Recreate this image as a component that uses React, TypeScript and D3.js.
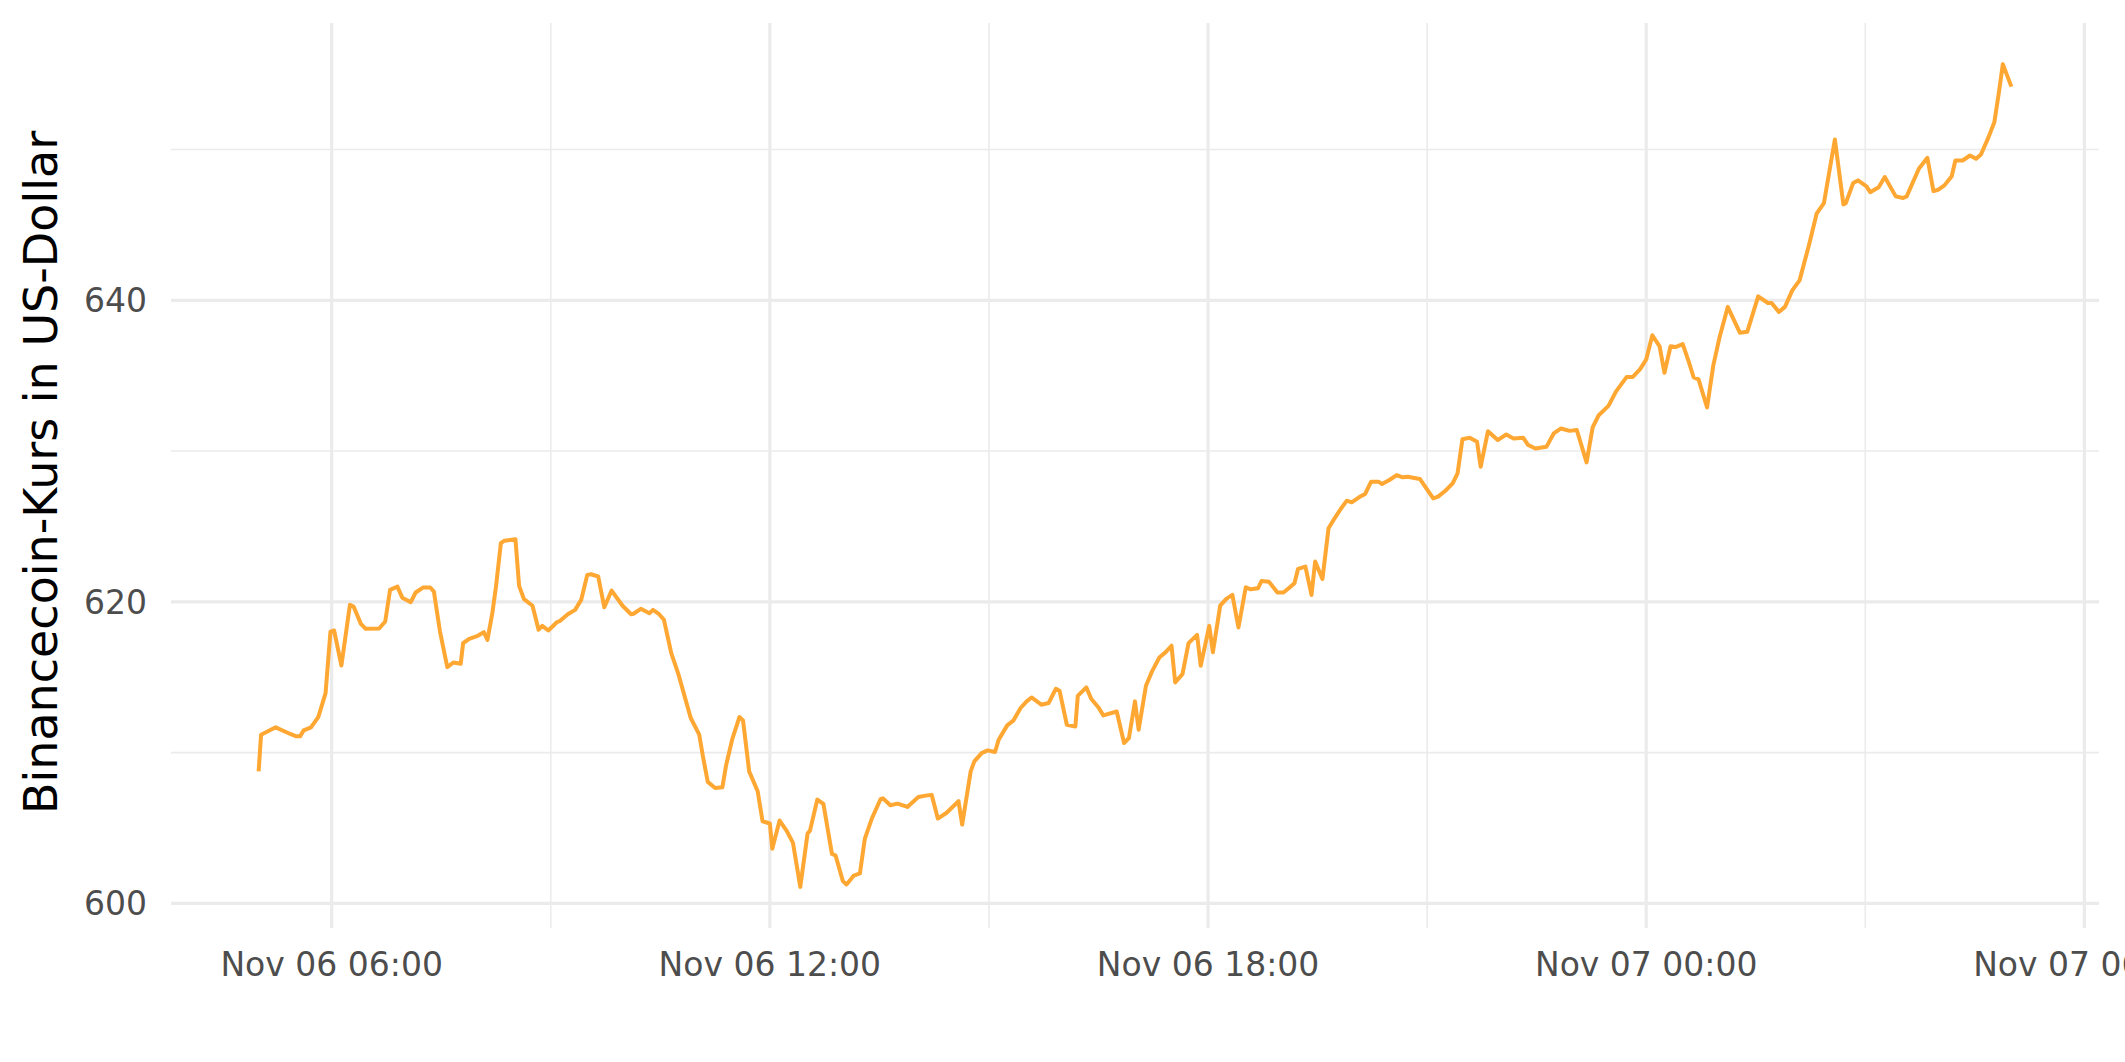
import React from 'react';
import * as d3 from 'd3';

const START = '2021-11-06T05:00:00';

const minutesFromStart = [
  0, 2, 14, 26, 31, 34, 37, 43, 49, 55, 59, 62, 68, 75, 78, 84, 88, 99, 104, 108, 114, 118, 125, 129, 135, 141, 144, 149, 155, 160, 166, 168, 173, 180, 185, 188, 192, 195, 199, 202, 211, 214, 218, 225, 230, 233,
  238, 245, 248, 254, 260, 265, 270, 273, 279, 284, 290, 299, 306, 308, 314, 321, 324, 329, 333, 336, 339, 345, 350, 355, 362, 365, 369, 375, 381, 384, 389, 395, 398, 403, 410, 414, 420, 422, 428, 434, 439, 445, 451, 453, 459, 464, 471, 474,
  480, 483, 489, 494, 498, 504, 511, 513, 519, 525, 533, 542, 548, 553, 558, 565, 575, 578, 585, 588, 594, 599, 605, 608, 615, 620, 626, 631, 635, 643, 649, 655, 658, 664, 671, 673, 680, 684, 690, 694, 705, 711, 715, 720,
  723, 729, 734, 740, 745, 750, 753, 759, 764, 771, 774, 781, 784, 790, 795, 800, 805, 811, 815, 821, 824, 830, 837, 842, 847, 851, 854, 860, 865, 868, 874, 879, 884, 889, 894, 898, 904, 909, 914, 920, 923, 929, 935, 940, 944, 954,
  965, 969, 975, 981, 985, 989, 995, 1001, 1004, 1010, 1018, 1025, 1031, 1039, 1043, 1049, 1058, 1064, 1070, 1077, 1083, 1091, 1096, 1101, 1109, 1115, 1119, 1124, 1129, 1135, 1140, 1145, 1151, 1155, 1160, 1164, 1170, 1175, 1179, 1183, 1190, 1195, 1200,
  1207, 1217, 1223, 1232, 1240, 1243, 1249, 1254, 1260, 1266, 1274, 1280, 1286, 1295, 1302, 1304, 1310, 1314, 1321, 1324, 1331, 1336, 1345, 1351, 1354, 1364, 1371, 1376, 1380, 1385, 1391, 1394, 1400, 1406, 1411, 1415, 1421, 1426, 1430, 1433, 1440,
];

const priceUSD = [
  608.76, 611.19, 611.68, 611.24, 611.08, 611.08, 611.48, 611.68, 612.36, 613.95, 618.03, 618.10, 615.78, 619.80, 619.69, 618.54, 618.21, 618.23, 618.70, 620.80, 621.01, 620.28, 619.98, 620.62, 620.95, 620.95, 620.68, 618.03, 615.67, 615.98, 615.89, 617.26, 617.55, 617.75, 617.99, 617.48, 619.25, 621.01, 623.89, 624.06, 624.15, 621.06, 620.18, 619.74, 618.15, 618.41,
  618.10, 618.65, 618.76, 619.18, 619.47, 620.13, 621.79, 621.83, 621.68, 619.64, 620.75, 619.74, 619.18, 619.21, 619.54, 619.25, 619.47, 619.18, 618.81, 617.70, 616.60, 615.17, 613.73, 612.30, 611.19, 609.76, 608.06, 607.66, 607.70, 609.14, 610.86, 612.36, 612.14, 608.76, 607.44, 605.45, 605.30, 603.62, 605.50, 604.79, 604.02, 601.10, 604.64, 604.83, 606.89, 606.60, 603.29, 603.18,
  601.48, 601.26, 601.85, 601.99, 604.28, 605.67, 606.93, 606.97, 606.51, 606.62, 606.40, 607.06, 607.15, 607.20, 605.63, 606.00, 606.78, 605.23, 608.76, 609.42, 609.97, 610.15, 610.04, 610.86, 611.81, 612.12, 612.96, 613.40, 613.66, 613.18, 613.29, 614.24, 614.11, 611.85, 611.74, 613.77, 614.33, 613.58, 613.00, 612.47, 612.73, 610.64, 610.97, 613.40,
  611.52, 614.44, 615.39, 616.31, 616.65, 617.09, 614.66, 615.21, 617.26, 617.81, 615.76, 618.41, 616.66, 619.75, 620.20, 620.46, 618.30, 620.97, 620.83, 620.90, 621.39, 621.34, 620.62, 620.62, 620.95, 621.24, 622.19, 622.34, 620.46, 622.67, 621.52, 624.88, 625.54, 626.16, 626.71, 626.60, 626.93, 627.15, 627.97, 627.97, 627.81, 628.08, 628.41, 628.26, 628.30, 628.15,
  626.86, 626.98, 627.37, 627.86, 628.52, 630.79, 630.88, 630.62, 628.96, 631.32, 630.73, 631.10, 630.84, 630.88, 630.40, 630.17, 630.28, 631.17, 631.50, 631.34, 631.39, 629.25, 631.57, 632.38, 633.00, 633.93, 634.37, 634.92, 634.92, 635.43, 636.07, 637.68, 636.95, 635.19, 636.95, 636.90, 637.09, 635.91, 634.88, 634.75, 632.89, 635.63, 637.46,
  639.56, 637.84, 637.91, 640.26, 639.82, 639.82, 639.23, 639.56, 640.66, 641.32, 643.75, 645.74, 646.44, 650.66, 646.36, 646.44, 647.77, 647.95, 647.55, 647.17, 647.50, 648.17, 646.89, 646.78, 646.89, 648.72, 649.45, 647.24, 647.33, 647.62, 648.23, 649.27, 649.27, 649.60, 649.38, 649.67, 650.77, 651.80, 653.91, 655.66, 654.17,
];

const yMajorTicks = [600, 620, 640];
const yMinorTicks = [610, 630, 650];
const xMajorTicks = ['2021-11-06T06:00:00', '2021-11-06T12:00:00', '2021-11-06T18:00:00', '2021-11-07T00:00:00', '2021-11-07T06:00:00'];
const xMinorTicks = ['2021-11-06T09:00:00', '2021-11-06T15:00:00', '2021-11-06T21:00:00', '2021-11-07T03:00:00'];
const yTitle = 'Binancecoin-Kurs in US-Dollar';

const W = 2125;
const H = 1062;
const panel = { left: 171, right: 2099, top: 23, bottom: 928 };
const lineColor = '#FFA733';
const gridColor = '#EBEBEB';
const font = '"DejaVu Sans", sans-serif';

export default function App() {
  const startMs = new Date(START).getTime();
  const data = minutesFromStart.map((m, i) => ({ t: new Date(startMs + m * 60000), v: priceUSD[i] }));

  const [t0, t1] = d3.extent(data, (d) => d.t.getTime()) as [number, number];
  const tPad = (t1 - t0) * 0.05;
  const x = d3.scaleTime().domain([new Date(t0 - tPad), new Date(t1 + tPad)]).range([panel.left, panel.right]);

  const [v0, v1] = d3.extent(data, (d) => d.v) as [number, number];
  const vPad = (v1 - v0) * 0.05;
  const y = d3.scaleLinear().domain([v0 - vPad, v1 + vPad]).range([panel.bottom, panel.top]);

  const line = d3.line<{ t: Date; v: number }>().x((d) => x(d.t)).y((d) => y(d.v));
  const fmt = d3.timeFormat('%b %d %H:%M');

  return (
    <svg width={W} height={H} style={{ position: 'absolute', left: 0, top: 0, background: '#fff' }} fontFamily={font}>
      <rect x={0} y={0} width={W} height={H} fill="#fff" />
      {yMinorTicks.map((v) => (
        <line key={'ym' + v} x1={panel.left} x2={panel.right} y1={y(v)} y2={y(v)} stroke={gridColor} strokeWidth={1.6} />
      ))}
      {xMinorTicks.map((s) => (
        <line key={'xm' + s} x1={x(new Date(s))} x2={x(new Date(s))} y1={panel.top} y2={panel.bottom} stroke={gridColor} strokeWidth={1.6} />
      ))}
      {yMajorTicks.map((v) => (
        <line key={'yM' + v} x1={panel.left} x2={panel.right} y1={y(v)} y2={y(v)} stroke={gridColor} strokeWidth={3.2} />
      ))}
      {xMajorTicks.map((s) => (
        <line key={'xM' + s} x1={x(new Date(s))} x2={x(new Date(s))} y1={panel.top} y2={panel.bottom} stroke={gridColor} strokeWidth={3.2} />
      ))}
      <path d={line(data) || ''} fill="none" stroke={lineColor} strokeWidth={4} strokeLinejoin="round" strokeLinecap="butt" />
      {yMajorTicks.map((v) => (
        <text key={'yl' + v} x={147} y={y(v)} dy="0.36em" textAnchor="end" fontSize={33} fill="#4D4D4D">
          {v}
        </text>
      ))}
      {xMajorTicks.map((s) => (
        <text key={'xl' + s} x={x(new Date(s))} y={976} textAnchor="middle" fontSize={33} fill="#4D4D4D">
          {fmt(new Date(s))}
        </text>
      ))}
      <text transform={`translate(57, ${(panel.top + panel.bottom) / 2 - 3}) rotate(-90)`} textAnchor="middle" fontSize={46} fill="#000">
        {yTitle}
      </text>
    </svg>
  );
}
